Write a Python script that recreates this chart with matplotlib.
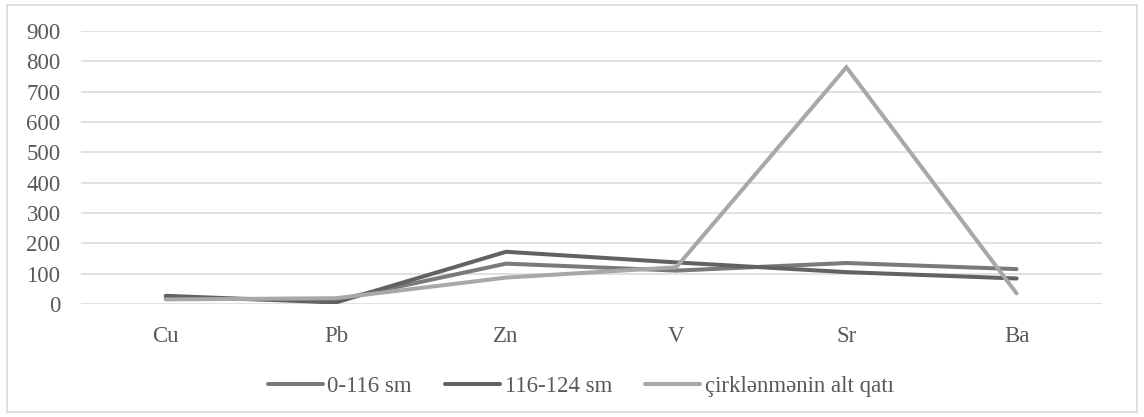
import matplotlib.pyplot as plt
from matplotlib.patches import Rectangle

# 元素ごとの値
elements = ["Cu", "Pb", "Zn", "V", "Sr", "Ba"]
layer_0_116 = [19, 13, 133, 110, 135, 115]
layer_116_124 = [27, 5, 172, 137, 105, 84]
layer_bottom = [15, 19, 87, 121, 780, 35]
series_names = ["0-116 sm", "116-124 sm", "çirklənmənin alt qatı"]
y_ticks = [0, 100, 200, 300, 400, 500, 600, 700, 800, 900]

plt.rcParams["font.family"] = ["Liberation Serif", "DejaVu Serif"]
text_color = "#595959"

fig = plt.figure(figsize=(11.44, 4.17), dpi=100)
ax = fig.add_axes([0.0705, 0.271, 0.8925, 0.655])

colors = ["#7a7a7a", "#626262", "#a8a8a8"]
x = list(range(len(elements)))
for vals, name, col in zip([layer_0_116, layer_116_124, layer_bottom], series_names, colors):
    ax.plot(x, vals, color=col, lw=2.9, solid_capstyle="round",
            solid_joinstyle="miter", label=name)

ax.set_xlim(-0.5, len(elements) - 0.5)
ax.set_ylim(0, 900)
ax.set_yticks(y_ticks)
ax.set_xticks(x)
ax.set_xticklabels(elements)
ax.yaxis.grid(True, color="#d9d9d9", lw=1.1)
ax.set_axisbelow(True)
for s in ax.spines.values():
    s.set_visible(False)
ax.tick_params(length=0, labelsize=16.5, colors=text_color)
ax.tick_params(axis="x", pad=16)
ax.tick_params(axis="y", pad=14.5)

leg = ax.legend(loc="upper center", bbox_to_anchor=(0.49, -0.188), ncol=3, frameon=False,
                fontsize=16.5, handlelength=2.4, handletextpad=0.2, columnspacing=1.45)
for t in leg.get_texts():
    t.set_color(text_color)

# 外枠
fig.patches.append(Rectangle((0.006, 0.012), 0.988, 0.977, transform=fig.transFigure,
                             fill=False, edgecolor="#d9d9d9", lw=1.2))

fig.savefig("out.png", dpi=100)
